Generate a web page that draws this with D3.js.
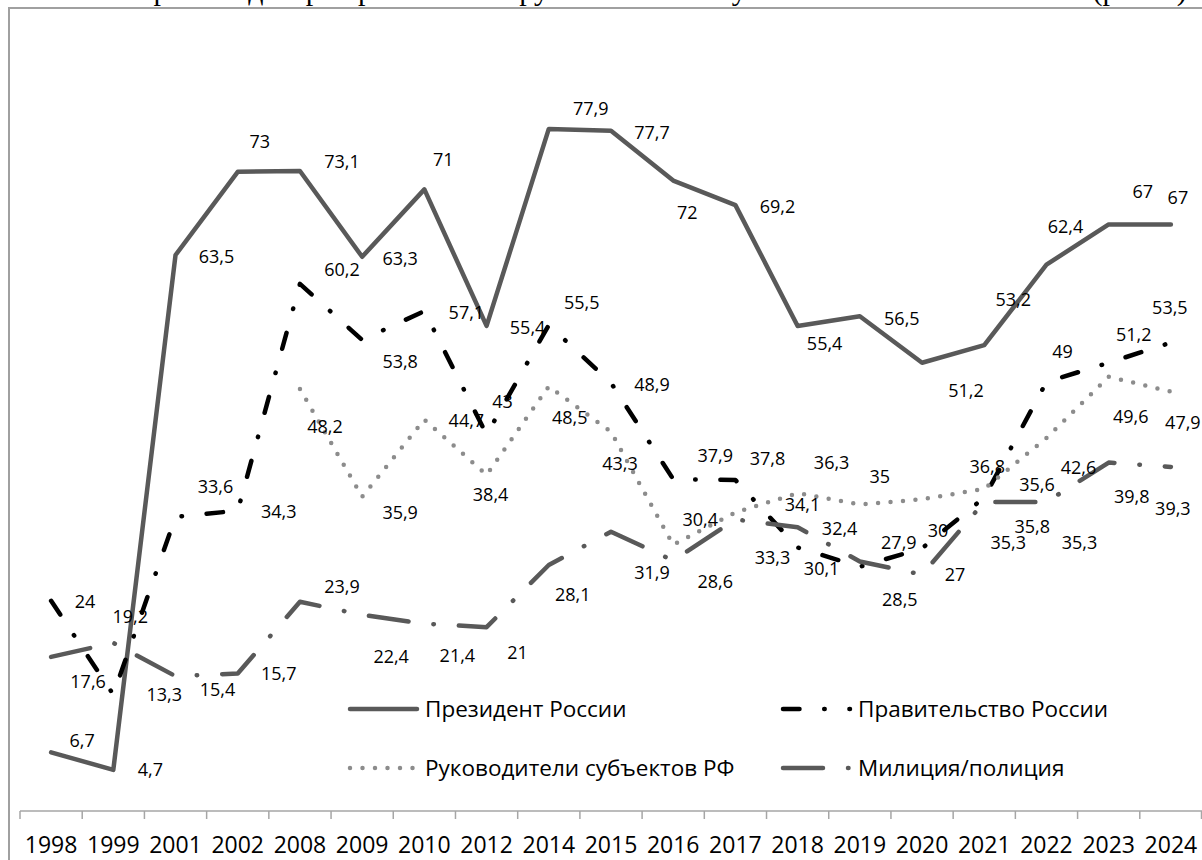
<!DOCTYPE html>
<html>
<head>
<meta charset="utf-8">
<script src="https://cdn.jsdelivr.net/npm/d3@7"></script>
<style>
  body { margin: 0; background: #fff; }
  svg text { font-family: "Open Sans", sans-serif; }
</style>
</head>
<body>
<div id="chart"></div>
<script>
/*global d3*/

var years = ["1998", "1999", "2001", "2002", "2008", "2009", "2010", "2012", "2014", "2015",
             "2016", "2017", "2018", "2019", "2020", "2021", "2022", "2023", "2024"];

var seriesNames = ["Президент России", "Правительство России", "Руководители субъектов РФ", "Милиция/полиция"];

var president  = [6.7, 4.7, 63.5, 73, 73.1, 63.3, 71, 55.4, 77.9, 77.7, 72, 69.2, 55.4, 56.5, 51.2, 53.2, 62.4, 67, 67];
var government = [24, 13.3, 33.6, 34.3, 60.2, 53.8, 57.1, 43, 55.5, 48.9, 37.9, 37.8, 30.1, 27.9, 30, 35.8, 49, 51.2, 53.5];
var leaders    = [null, null, null, null, 48.2, 35.9, 44.7, 38.4, 48.5, 43.3, 30.4, 34.1, 36.3, 35, 35.6, 36.8, 42.6, 49.6, 47.9];
var police     = [17.6, 19.2, 15.4, 15.7, 23.9, 22.4, 21.4, 21, 28.1, 31.9, 28.6, 33.3, 32.4, 28.5, 27, 35.3, 35.3, 39.8, 39.3];

// data labels were dragged around by hand in the original, so keep the nudges (px)
var presidentShift  = [[31,-12],[37,0],[41,2],[22,-30],[42,-9],[38,2],[19,-30],[41,2],[42,-20],[41,2],
                       [14,32],[42,2],[27,18],[42,2],[44,28],[29,-46],[19,-38],[34,-33],[7,-27]];
var governmentShift = [[34,1],[51,0],[40,-30],[41,1],[42,-14],[38,22],[42,2],[16,-33],[33,-22],[41,2],
                       [42,-23],[32,-21],[24,21],[39,-24],[16,-18],[48,29],[16,-30],[25,-28],[-1,-35]];
var leadersShift    = [null, null, null, null, [25,38],[38,16],[42,1],[4,20],[21,31],[9,32],
                       [27,-25],[67,-8],[34,-30],[20,-28],[115,-15],[3,-22],[32,30],[22,40],[12,31]];
var policeShift     = [[37,25],[17,-26],[42,14],[41,0],[42,-15],[29,42],[33,32],[31,26],[24,30],[41,41],
                       [42,21],[37,38],[42,1],[40,38],[33,0],[24,41],[33,41],[23,34],[2,42]];

var width = 1202,
    height = 860;

var series = [
  {name: seriesNames[0], values: president,  shift: presidentShift,  color: "#595959", dash: null},
  {name: seriesNames[1], values: government, shift: governmentShift, color: "#000000", dash: "16.5,24.7,0.5,24.7"},
  {name: seriesNames[2], values: leaders,    shift: leadersShift,    color: "#8c8c8c", dash: "0,12.5"},
  {name: seriesNames[3], values: police,     shift: policeShift,     color: "#595959", dash: "40,25,0.5,25"}
];

var svg = d3.select("#chart").append("svg")
  .attr("width", width)
  .attr("height", height);

// caption line above the chart, only its descenders show at the picture edge
svg.append("text")
  .attr("x", 135)
  .attr("y", 0)
  .style("font-family", "'Liberation Serif', serif")
  .style("font-size", "30px")
  .text("Уровень доверия различным группам и институтам власти в 1998–2024 гг. (рис. 2)");

// chart frame
svg.append("rect")
  .attr("x", 9)
  .attr("y", 8)
  .attr("width", width)
  .attr("height", height)
  .style("fill", "none")
  .style("stroke", "#a0a0a0")
  .style("stroke-width", 2);

var x = d3.scaleBand()
  .domain(years)
  .range([20, 1202])
  .padding(0);

var y = d3.scaleLinear()
  .domain([0, 90])
  .range([811, 23]);

var cx = function(i) { return x(years[i]) + x.bandwidth() / 2; };

// axis line and ticks between categories
var axisG = svg.append("g");
axisG.append("line")
  .attr("x1", x.range()[0])
  .attr("x2", x.range()[1])
  .attr("y1", y(0))
  .attr("y2", y(0))
  .style("stroke", "#a6a6a6")
  .style("stroke-width", 1.5);

axisG.selectAll(".tick")
  .data(years.concat(["end"]))
  .enter()
  .append("line")
  .attr("x1", function(d) { return d === "end" ? x.range()[1] - 0.5 : x(d); })
  .attr("x2", function(d) { return d === "end" ? x.range()[1] - 0.5 : x(d); })
  .attr("y1", y(0))
  .attr("y2", y(0) + 8)
  .style("stroke", "#a6a6a6")
  .style("stroke-width", 1.5);

axisG.selectAll(".yearLabel")
  .data(years)
  .enter()
  .append("text")
  .attr("x", function(d) { return x(d) + x.bandwidth() / 2; })
  .attr("y", 845)
  .attr("dy", "0.35em")
  .attr("text-anchor", "middle")
  .style("font-size", "23px")
  .style("fill", "#000")
  .text(function(d) { return d; });

var line = d3.line()
  .defined(function(d) { return d != null; })
  .x(function(d, i) { return cx(i); })
  .y(function(d) { return y(d); });

series.forEach(function(s) {
  svg.append("path")
    .datum(s.values)
    .attr("d", line)
    .style("fill", "none")
    .style("stroke", s.color)
    .style("stroke-width", 4.5)
    .style("stroke-linecap", "round")
    .style("stroke-linejoin", "round")
    .style("stroke-dasharray", s.dash);
});

var fmt = function(v) { return String(v).replace(".", ","); };

series.forEach(function(s) {
  svg.selectAll(null)
    .data(s.values.map(function(v, i) { return {v: v, i: i, shift: s.shift[i]}; })
      .filter(function(d) { return d.v != null; }))
    .enter()
    .append("text")
    .attr("x", function(d) { return cx(d.i) + d.shift[0]; })
    .attr("y", function(d) { return y(d.v) + d.shift[1]; })
    .attr("dy", "0.35em")
    .attr("text-anchor", "middle")
    .style("font-size", "18px")
    .style("fill", "#000")
    .text(function(d) { return fmt(d.v); });
});

// legend, two rows by two columns
var legendCols = [350, 783],
    legendRows = [709, 768],
    sampleLen = 67;

var legend = svg.selectAll(".legend")
  .data(series)
  .enter()
  .append("g")
  .attr("transform", function(d, i) {
    return "translate(" + legendCols[i % 2] + "," + legendRows[Math.floor(i / 2)] + ")";
  });

legend.append("line")
  .attr("x1", 0)
  .attr("x2", sampleLen)
  .attr("y1", 0)
  .attr("y2", 0)
  .style("stroke", function(d) { return d.color; })
  .style("stroke-width", 4.5)
  .style("stroke-linecap", "round")
  .style("stroke-dasharray", function(d) { return d.dash; });

legend.append("text")
  .attr("x", sampleLen + 8)
  .attr("y", 0)
  .attr("dy", "0.35em")
  .style("font-size", "22.5px")
  .style("fill", "#000")
  .text(function(d) { return d.name; });
</script>
</body>
</html>
